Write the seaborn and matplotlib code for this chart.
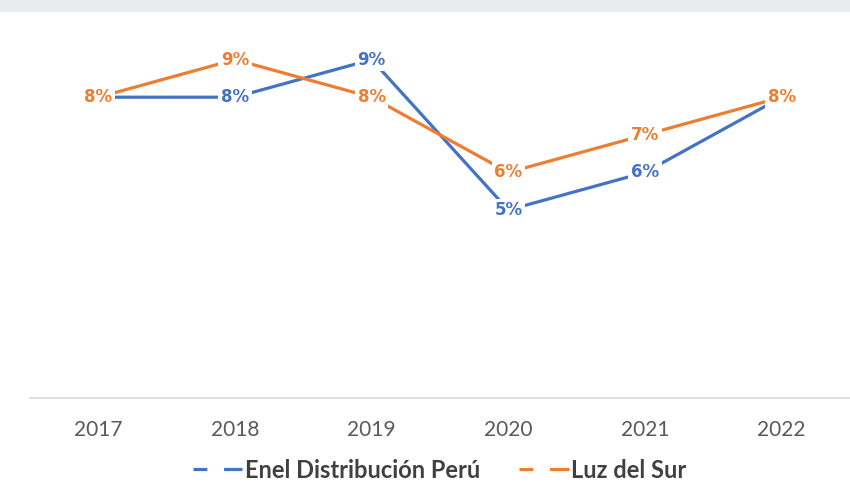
import numpy as np
import pandas as pd
import matplotlib.pyplot as plt
import seaborn as sns
from matplotlib.lines import Line2D
from matplotlib.patches import Rectangle

years = ['2017', '2018', '2019', '2020', '2021', '2022']
enel = [0.08, 0.08, 0.09, 0.05, 0.06, 0.08]
luz = [0.08, 0.09, 0.08, 0.06, 0.07, 0.08]
series_names = ['Enel Distribución Perú', 'Luz del Sur']
colors = ['#4472C4', '#ED7D31']

df = pd.DataFrame({
    'year': years * 2,
    'pos': list(range(len(years))) * 2,
    'value': enel + luz,
    'serie': [series_names[0]] * len(years) + [series_names[1]] * len(years),
})

sns.set_theme(style='white')
plt.rcParams['lines.scale_dashes'] = False

fig = plt.figure(figsize=(8.5, 4.97), dpi=100)
# grey strip of the screenshot at the top
fig.patches.append(Rectangle((0, 1 - 12 / 497), 1, 12 / 497, transform=fig.transFigure,
                             facecolor='#e9ebee', edgecolor='none', zorder=0))
ax = fig.add_axes([30 / 850, 1 - 398 / 497, 820 / 850, 376 / 497])

sns.lineplot(data=df, x='pos', y='value', hue='serie', palette=colors,
             linewidth=2.3, legend=False, ax=ax, zorder=2)

# data labels on top of the points
for vals, c in zip([enel, luz], colors):
    for i, v in enumerate(vals):
        ax.text(i, v, '{:.0%}'.format(v), ha='center', va='center', color=c,
                fontsize=12, fontweight='bold', family='DejaVu Sans', zorder=3,
                bbox=dict(boxstyle='square,pad=0.15', facecolor='white', edgecolor='none'))

ax.set_xlim(-0.5, len(years) - 0.5)
ax.set_ylim(0, 0.10)
ax.set_xticks(range(len(years)))
ax.set_xticklabels(years, fontsize=15, color='#595959', family='Lato')
ax.set_yticks([])
ax.tick_params(axis='x', length=0, pad=16)
ax.set_xlabel('')
ax.set_ylabel('')
for s in ['top', 'right', 'left']:
    ax.spines[s].set_visible(False)
ax.spines['bottom'].set_color('#d9d9d9')
ax.spines['bottom'].set_linewidth(1.2)

handles = [Line2D([], [], color=c, linewidth=2.3, dashes=(10, 12, 13, 0)) for c in colors]
fig.legend(handles, series_names, loc='center', bbox_to_anchor=(0.517, 1 - 470 / 497),
           ncol=2, frameon=False, handlelength=2.1, handletextpad=0.1, columnspacing=1.65,
           prop={'family': 'Lato', 'weight': 'bold', 'size': 17},
           labelcolor='#404040')

fig.savefig('out.png', dpi=100)
